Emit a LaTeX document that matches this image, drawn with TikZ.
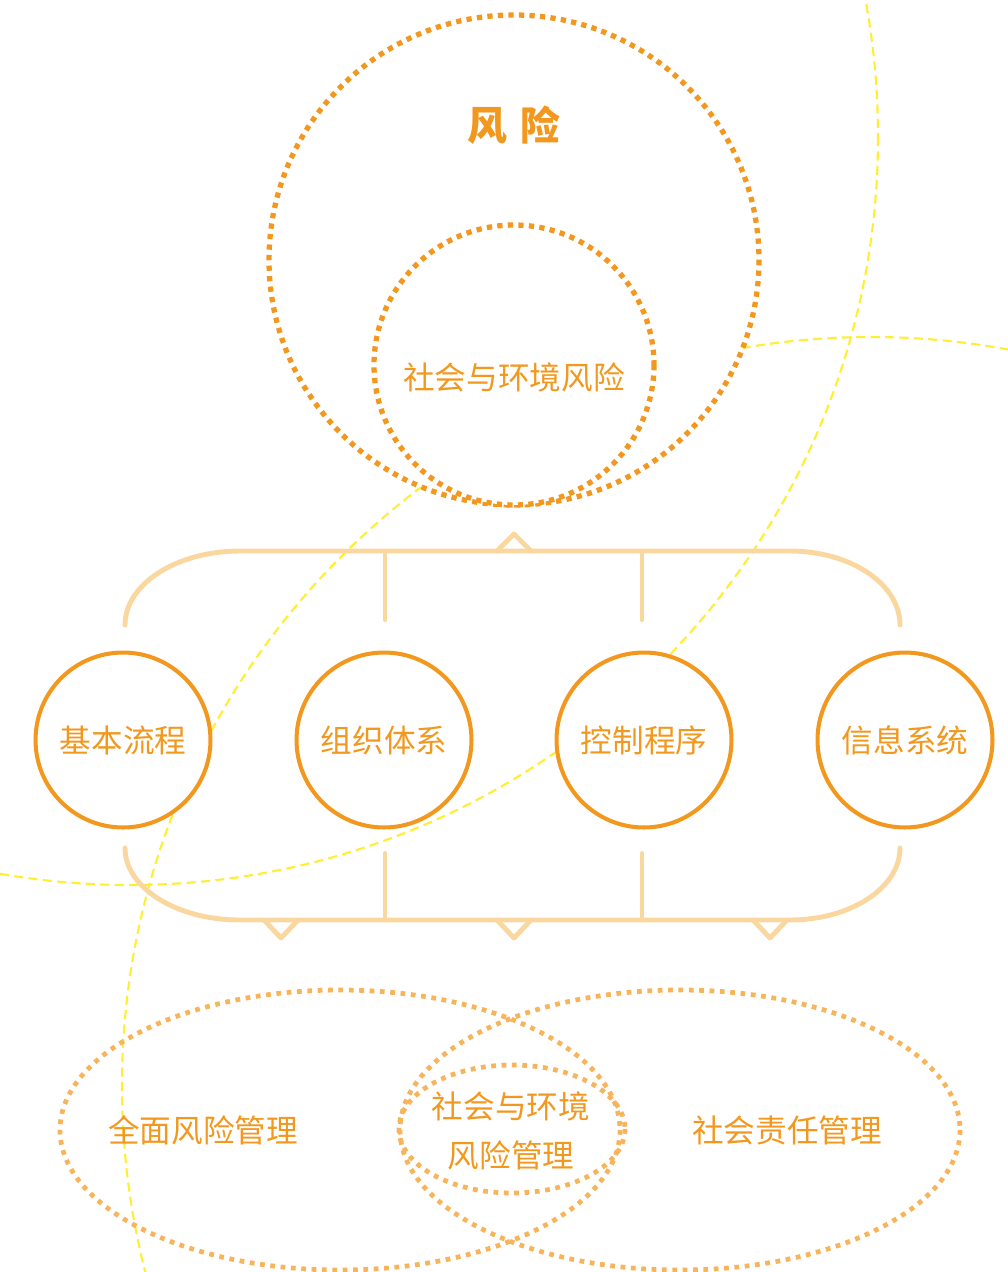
\documentclass[tikz,border=0pt]{standalone}
\usepackage{fontspec}
\newfontfamily\cjk{Noto Sans CJK SC}
\definecolor{riskorange}{RGB}{243,152,30}
\definecolor{bracketorange}{RGB}{251,215,160}
\definecolor{ellipseorange}{RGB}{247,180,90}
\definecolor{guideyellow}{RGB}{255,238,50}
\def\notchup(#1,#2){\draw[bracket] (#1-17,#2) -- (#1,#2-17) -- (#1+17,#2);}
\def\notchdown(#1,#2){\draw[bracket] (#1-17,#2) -- (#1,#2+18) -- (#1+17,#2);}

\begin{document}
\begin{tikzpicture}[x=0.02cm, y=-0.02cm,
	guide/.style={line width=1.2pt, dash pattern=on 5.2pt off 3pt, color=guideyellow},
	bigdots/.style={line width=3pt, dash pattern=on 3pt off 3pt, color=riskorange, fill=white},
	softdots/.style={line width=2.7pt, dash pattern=on 2.7pt off 3.2pt, color=ellipseorange},
	bracket/.style={line width=2.8pt, color=bracketorange, line cap=round, line join=round},
	tick/.style={line width=2.3pt, color=bracketorange, line cap=round},
	unit/.style={circle, draw=riskorange, line width=2.3pt, fill=white, minimum size=3.5cm, inner sep=0pt},
	label/.style={text=riskorange, font=\cjk\fontsize{18}{27.8}\selectfont, align=center}]
		%%%%% START %%%%%
		\useasboundingbox (0,0) rectangle (1008,1272);
		
		% yellow guide arcs
		\begin{scope}
			\clip (0,0) rectangle (1008,1272);
			\draw[guide] (130,137) circle (748);
			\draw[guide] (871,1086) circle (749);
		\end{scope}
		
		% risk circles
		\draw[bigdots] (514,260) circle (245);
		\draw[bigdots] (514,365) circle (140);
		\node[text=riskorange, font=\cjk\bfseries\fontsize{22.7}{26}\selectfont] (risk) at (514,125) {风\hspace{0.35em}险};
		\node[label] (socrisk) at (514,377) {社会与环境风险};
		
		% upper bracket
		\draw[bracket] (125,625) arc[start angle=180, end angle=270, x radius=115, y radius=74]
			-- (790,551) arc[start angle=270, end angle=360, x radius=110, y radius=74];
		\notchup(514,551)
		\draw[tick] (385,551) -- (385,620);
		\draw[tick] (642,551) -- (642,620);
		
		% four elements
		\node[unit, label] (flow) at (123,740) {基本流程};
		\node[unit, label] (org) at (384,740) {组织体系};
		\node[unit, label] (ctrl) at (644,740) {控制程序};
		\node[unit, label] (info) at (905,740) {信息系统};
		
		% lower bracket
		\draw[bracket] (125,848) arc[start angle=180, end angle=90, x radius=115, y radius=72]
			-- (790,920) arc[start angle=90, end angle=0, x radius=110, y radius=72];
		\notchdown(281,920)
		\notchdown(514,920)
		\notchdown(770,920)
		\draw[tick] (385,853) -- (385,920);
		\draw[tick] (642,853) -- (642,920);
		
		% management ellipses
		\draw[softdots] (340,1130) ellipse [x radius=280, y radius=140];
		\draw[softdots] (680,1130) ellipse [x radius=280, y radius=140];
		\draw[softdots] (512,1129) ellipse [x radius=113, y radius=64];
		\node[label] (allrisk) at (203,1130) {全面风险管理};
		\node[label] (csr) at (787,1130) {社会责任管理};
		\node[label] (jointmgmt) at (511,1131) {社会与环境\\风险管理};
		
		%%%%% END %%%%%
	\end{tikzpicture}
\end{document}
